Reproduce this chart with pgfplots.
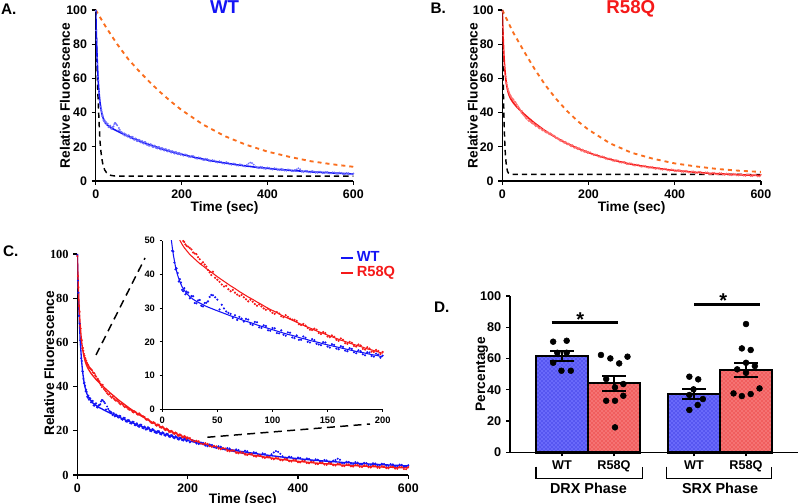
\documentclass[border=0pt]{standalone}
\usepackage{fontspec}
\setmainfont{Liberation Sans}
\newfontfamily\timesb{Liberation Serif}
\usepackage{pgfplots}
\pgfplotsset{compat=1.18}
\usepackage{pgfplotstable}
\usetikzlibrary{patterns}

\definecolor{wtblue}{RGB}{20,20,245}
\definecolor{mutred}{RGB}{245,25,25}
\definecolor{fitorange}{RGB}{250,110,30}
\definecolor{wtdot}{RGB}{110,110,255}
\definecolor{mutdot}{RGB}{255,110,110}
\definecolor{barblue}{RGB}{105,105,250}
\definecolor{barred}{RGB}{245,115,115}
\definecolor{patblue}{RGB}{25,25,210}
\definecolor{patred}{RGB}{225,25,25}

% time, fit, data
\pgfplotstableread{
t f d
0 100.0 99.5
1 89.6 88.0
2 81.0 82.5
3 73.6 72.0
4 67.4 68.5
5 62.2 61.0
6 57.8 58.9
7 54.0 52.8
8 50.9 51.6
9 48.2 47.0
10 45.9 46.8
12 42.3 41.5
14 39.7 40.4
16 37.8 38.6
18 36.3 35.4
20 35.3 35.9
22 34.4 34.9
25 33.4 32.9
28 32.6 33.5
31 32.0 31.4
34 31.5 32.4
37 31.0 30.5
40 30.5 31.6
43 30.1 33.3
46 29.7 33.8
50 29.2 32.5
54 28.7 31.0
58 28.2 29.0
62 27.7 28.3
66 27.3 27.9
70 26.8 27.4
74 26.3 26.0
78 25.9 26.6
82 25.5 25.0
86 25.0 25.8
90 24.6 24.1
94 24.2 24.7
98 23.8 23.3
102 23.4 24.0
106 23.0 22.5
110 22.6 22.1
114 22.2 22.8
118 21.9 21.3
122 21.5 21.9
126 21.1 20.6
130 20.8 21.2
134 20.4 19.8
138 20.1 20.5
142 19.8 19.2
146 19.4 19.9
150 19.1 18.6
154 18.8 19.3
158 18.5 18.0
162 18.2 18.7
166 17.9 17.4
170 17.6 18.1
174 17.3 16.9
178 17.0 17.5
182 16.8 16.3
186 16.5 16.9
190 16.2 15.8
194 16.0 16.5
198 15.7 15.3
200 15.6 15.9
208 15.1 15.6
216 14.6 14.2
224 14.2 14.7
232 13.7 13.3
240 13.3 13.8
248 12.9 12.5
256 12.5 13.0
264 12.1 11.7
272 11.7 12.2
280 11.4 11.0
288 11.0 11.6
296 10.7 10.3
304 10.4 11.0
312 10.1 9.8
320 9.8 10.3
328 9.5 9.1
336 9.2 9.8
344 9.0 8.7
352 8.7 9.4
360 8.5 10.8
368 8.2 9.6
376 8.0 7.7
384 7.8 8.3
392 7.6 7.2
400 7.4 7.9
408 7.2 6.9
416 7.0 7.5
424 6.8 6.5
432 6.6 7.1
440 6.5 6.1
448 6.3 6.8
456 6.2 5.8
464 6.0 6.5
472 5.9 7.4
480 5.7 5.4
488 5.6 6.0
496 5.5 5.1
504 5.3 5.8
512 5.2 4.8
520 5.1 5.5
528 5.0 4.6
536 4.9 5.3
544 4.8 4.4
552 4.7 5.1
560 4.6 4.2
568 4.5 4.9
576 4.4 4.0
584 4.3 4.7
592 4.2 3.8
600 4.1 4.4
}\wt

% extra WT readings between the rows above
\pgfplotstableread{
t d
11 43.5
13 41.8
15 37.9
17 37.6
19 35.0
21 34.1
23.5 34.6
26.5 33.6
29.5 31.5
32.5 32.3
35.5 30.7
38.5 31.5
41.5 32.0
44.5 33.9
48 33.2
52 29.6
56 29.9
60 28.6
64 27.1
68 26.5
72 26.9
76 26.8
80 25.3
84 25.9
88 24.3
92 24.9
96 23.4
100 24.1
104 22.6
108 23.4
112 21.8
116 22.7
120 21.1
124 20.6
128 21.6
132 20.0
136 20.8
140 19.4
144 19.0
148 19.8
152 18.3
156 19.1
160 17.8
164 18.5
168 17.2
172 17.9
176 16.6
180 17.2
184 16.0
188 16.8
192 15.6
196 16.2
204 14.8
212 15.3
220 14.0
228 14.5
236 13.0
244 13.6
252 12.2
260 12.8
268 11.5
276 12.0
284 10.8
292 11.3
300 10.1
308 10.7
316 9.5
324 10.1
332 9.0
340 9.5
348 8.4
356 10.2
364 10.5
372 8.5
380 7.5
388 8.1
396 7.1
404 7.7
412 6.7
420 7.3
428 6.3
436 6.9
444 6.0
452 6.6
460 5.7
468 6.8
476 6.9
484 5.3
492 5.9
500 5.0
508 5.6
516 4.8
524 5.4
532 4.6
540 5.2
548 4.4
556 5.0
564 4.2
572 4.8
580 4.0
588 4.6
596 3.9
}\wtx

\pgfplotstableread{
t f d
0 100.0 99.0
1 91.2 90.0
2 83.9 85.0
3 77.9 76.5
4 72.8 73.8
5 68.7 67.5
6 65.3 66.2
7 62.4 61.4
8 60.0 61.0
9 58.0 57.2
10 56.3 57.5
12 53.6 54.8
14 51.6 53.0
16 50.1 51.7
18 48.9 50.3
20 47.9 49.6
22 47.1 48.5
25 45.9 47.8
28 45.0 46.5
31 44.1 46.0
34 43.2 44.5
37 42.5 43.6
40 41.7 42.3
43 41.0 40.6
46 40.3 40.8
50 39.3 38.4
54 38.4 37.0
58 37.5 36.6
62 36.6 35.0
66 35.8 34.6
70 34.9 33.6
74 34.1 33.2
78 33.3 32.0
82 32.6 31.9
86 31.8 30.7
90 31.1 30.5
94 30.3 29.5
98 29.6 29.2
102 29.0 28.3
106 28.3 28.4
110 27.6 27.3
114 27.0 27.4
118 26.4 26.6
122 25.8 26.2
126 25.2 25.0
130 24.6 24.8
134 24.1 23.6
138 23.5 23.9
142 23.0 22.6
146 22.5 22.9
150 22.0 21.6
154 21.5 21.9
158 21.0 20.6
162 20.5 21.0
166 20.1 19.6
170 19.6 20.0
174 19.2 18.8
178 18.8 19.2
182 18.4 17.9
186 17.9 18.4
190 17.6 17.1
194 17.2 17.6
198 16.8 16.4
200 16.6 17.0
208 15.9 15.6
216 15.2 15.5
224 14.6 14.2
232 14.0 14.4
240 13.4 13.0
248 12.8 13.2
256 12.3 11.9
264 11.8 12.2
272 11.3 10.9
280 10.9 11.2
288 10.4 10.0
296 10.0 10.4
304 9.6 9.2
312 9.3 9.6
320 8.9 8.5
328 8.6 8.9
336 8.3 7.9
344 7.9 8.3
352 7.7 7.3
360 7.4 7.7
368 7.1 6.7
376 6.9 7.2
384 6.6 6.2
392 6.4 6.8
400 6.2 5.8
408 6.0 6.4
416 5.8 5.4
424 5.6 6.0
432 5.4 5.0
440 5.3 5.6
448 5.1 4.7
456 5.0 5.4
464 4.8 4.4
472 4.7 5.1
480 4.5 4.1
488 4.4 4.8
496 4.3 3.9
504 4.2 4.6
512 4.1 3.7
520 4.0 4.4
528 3.9 3.5
536 3.8 4.2
544 3.7 3.3
552 3.6 4.0
560 3.5 3.1
568 3.5 3.8
576 3.4 2.9
584 3.3 3.7
592 3.3 2.7
600 3.2 3.6
}\mut

% extra R58Q readings between the rows above
\pgfplotstableread{
t d
11 56.2
13 54.0
15 52.5
17 50.9
19 49.9
21 48.9
23.5 48.2
26.5 47.4
29.5 46.2
32.5 45.1
35.5 43.2
38.5 42.9
41.5 41.3
44.5 39.8
48 39.0
52 37.8
56 36.4
60 35.6
64 35.4
68 34.0
72 33.9
76 32.6
80 32.5
84 31.2
88 31.1
92 29.9
96 29.8
100 28.6
104 28.8
108 27.6
112 27.9
116 26.9
120 26.5
124 25.2
128 25.3
132 24.1
136 23.5
140 23.6
144 22.3
148 22.6
152 21.4
156 21.5
160 20.3
164 20.6
168 19.4
172 19.7
176 18.6
180 18.9
184 17.7
188 18.0
192 17.0
196 17.3
204 16.7
212 15.1
220 15.3
228 13.9
236 14.1
244 12.7
252 13.0
260 11.6
268 12.0
276 10.7
284 11.1
292 9.8
300 10.2
308 9.0
316 9.5
324 8.3
332 8.8
340 7.7
348 8.2
356 7.1
364 7.6
372 6.6
380 7.1
388 6.1
396 6.7
404 5.7
412 6.3
420 5.3
428 5.9
436 4.9
444 5.6
452 4.6
460 5.3
468 4.3
476 5.0
484 4.0
492 4.8
500 3.8
508 4.6
516 3.6
524 4.3
532 3.4
540 4.1
548 3.2
556 3.9
564 3.0
572 3.8
580 2.8
588 3.6
596 2.6
}\mutx

\pgfplotsset{
  prism/.style={
    scale only axis,
    axis lines=left,
    axis line style={-, line width=1.1pt},
    tick align=outside,
    major tick length=3pt,
    tick style={black, line width=1pt},
    tick label style={font=\fontsize{9.3}{11}\selectfont\bfseries},
    label style={font=\fontsize{10.3}{12}\selectfont\bfseries},
    /pgf/number format/assume math mode=true,
    xmin=0, xmax=600, ymin=0, ymax=100,
    xtick={0,200,400,600}, ytick={0,20,...,100},
  },
}

\begin{document}
\begin{tikzpicture}
\path[use as bounding box] (0,0) rectangle (600pt,377.25pt);

% ---- A
\begin{axis}[prism, at={(71.8pt,241.5pt)}, anchor=south west,
  width=193.2pt, height=128.25pt,
  xlabel={Time (sec)}, ylabel={Relative Fluorescence},
  xlabel style={at={(axis description cs:0.5,-0.16)}, anchor=center},
  ylabel style={at={(axis description cs:-0.119,0.5)}, anchor=center},
  title={WT},
  title style={at={(axis description cs:0.5,0.972)}, anchor=center, inner sep=0pt,
    font=\fontsize{14}{16}\selectfont\bfseries, text=wtblue}]
\addplot[only marks, mark=*, mark size=0.45pt, wtdot] table[x=t,y=d]{\wt};
\addplot[only marks, mark=*, mark size=0.45pt, wtdot] table[x=t,y=d]{\wtx};
\addplot[fitorange, line width=1.4pt, dash pattern=on 3pt off 3pt] coordinates {
(0,100)(25,89.5)(50,80)(75,71.5)(100,64.5)(125,58)(150,52)(175,46.5)(200,41.5)
(250,33)(300,26.3)(350,21.2)(400,17.2)(450,14.2)(500,11.6)(550,9.8)(600,8.3)};
\addplot[black, line width=1.1pt, dash pattern=on 4pt off 3pt] coordinates {
(0,100)(1,88)(2,77)(3,67)(4,59)(5,51)(6,45)(8,33)(10,23)(12,17.5)(14,13.5)
(16,10.5)(18,8.5)(21,6.4)(25,4.9)(30,3.9)(35,3.3)(45,2.9)(60,2.8)(600,2.8)};
\addplot[wtblue, line width=1.2pt] table[x=t,y=f]{\wt};
\end{axis}

% ---- B
\begin{axis}[prism, at={(376.7pt,241.5pt)}, anchor=south west,
  width=194pt, height=128.25pt,
  xlabel={Time (sec)}, ylabel={Relative Fluorescence},
  xlabel style={at={(axis description cs:0.5,-0.16)}, anchor=center},
  ylabel style={at={(axis description cs:-0.114,0.5)}, anchor=center},
  title={R58Q},
  title style={at={(axis description cs:0.497,0.96)}, anchor=center, inner sep=0pt,
    font=\fontsize{14}{16}\selectfont\bfseries, text=mutred}]
\addplot[only marks, mark=*, mark size=0.45pt, mutdot] table[x=t,y=d]{\mut};
\addplot[only marks, mark=*, mark size=0.45pt, mutdot] table[x=t,y=d]{\mutx};
\addplot[fitorange, line width=1.4pt, dash pattern=on 3pt off 3pt] coordinates {
(0,100)(25,87)(50,76)(75,65.5)(100,56)(125,48)(150,41)(175,35)(200,30)
(250,22)(300,16.5)(350,13)(400,10.3)(450,8.5)(500,7)(550,6)(600,5.3)};
\addplot[black, line width=1.1pt, dash pattern=on 4pt off 3pt] coordinates {
(0,100)(1,80)(2,62)(3,48)(4,37)(5,28)(6,21.5)(7,16.5)(8,12.8)(10,8.2)
(12,5.8)(14,4.7)(17,4.1)(22,3.9)(600,3.8)};
\addplot[mutred, line width=1.2pt] table[x=t,y=f]{\mut};
\end{axis}

% ---- C main
\begin{axis}[prism, at={(58pt,21pt)}, anchor=south west,
  width=248.25pt, height=165.75pt,
  yticklabel style={font=\fontsize{9.3}{11}\selectfont\timesb\bfseries},
  xlabel={Time (sec)}, ylabel={Relative Fluorescence},
  xlabel style={at={(axis description cs:0.5,-0.113)}, anchor=center},
  ylabel style={at={(axis description cs:-0.085,0.505)}, anchor=center},
  legend style={at={(axis description cs:0.782,1.035)}, anchor=north west,
    draw=none, fill=none, font=\fontsize{11}{13}\selectfont\bfseries,
    row sep=-2pt},
  legend cell align=left,
  legend image code/.code={\draw[#1, line width=1.3pt] (0pt,0pt) -- (9pt,0pt);}]
\addplot[forget plot, only marks, mark=*, mark size=0.55pt, wtblue] table[x=t,y=d]{\wt};
\addplot[forget plot, only marks, mark=*, mark size=0.55pt, wtblue] table[x=t,y=d]{\wtx};
\addplot[forget plot, only marks, mark=*, mark size=0.55pt, mutred] table[x=t,y=d]{\mut};
\addplot[forget plot, only marks, mark=*, mark size=0.55pt, mutred] table[x=t,y=d]{\mutx};
\addplot[wtblue, line width=1pt] table[x=t,y=f]{\wt};
\addlegendentry{\textcolor{wtblue}{WT}}
\addplot[mutred, line width=1pt] table[x=t,y=f]{\mut};
\addlegendentry{\textcolor{mutred}{R58Q}}
\end{axis}

% ---- C inset
\begin{axis}[scale only axis, at={(121.7pt,70.3pt)}, anchor=south west,
  width=165.3pt, height=126.45pt,
  axis lines=left, axis line style={-, line width=0.8pt},
  tick align=outside, major tick length=2pt, tick style={black, line width=0.7pt},
  tick label style={font=\fontsize{7}{8}\selectfont\bfseries},
  /pgf/number format/assume math mode=true,
  xmin=0, xmax=200, ymin=0, ymax=50,
  xtick={0,50,...,200}, ytick={0,10,...,50}]
\addplot[only marks, mark=*, mark size=0.6pt, wtblue] table[x=t,y=d]{\wt};
\addplot[only marks, mark=*, mark size=0.6pt, wtblue] table[x=t,y=d]{\wtx};
\addplot[only marks, mark=*, mark size=0.6pt, mutred] table[x=t,y=d]{\mut};
\addplot[only marks, mark=*, mark size=0.6pt, mutred] table[x=t,y=d]{\mutx};
\addplot[wtblue, line width=0.8pt] table[x=t,y=f]{\wt};
\addplot[mutred, line width=0.8pt] table[x=t,y=f]{\mut};
\end{axis}

\draw[black, line width=1.1pt, dash pattern=on 6pt off 4pt] (72pt,111pt) -- (108.75pt,183.75pt);
\draw[black, line width=1.1pt, dash pattern=on 6pt off 4pt] (155.5pt,49.3pt) -- (277.5pt,59.25pt);

% ---- D
\begin{axis}[scale only axis, at={(382.5pt,38pt)}, anchor=south west,
  width=216pt, height=117.2pt, clip=false,
  axis lines=left, axis line style={-, line width=1.1pt},
  tick align=outside, major tick length=3pt, tick style={black, line width=1pt},
  tick label style={font=\fontsize{9.5}{11}\selectfont\bfseries},
  label style={font=\fontsize{10.3}{12}\selectfont\bfseries},
  /pgf/number format/assume math mode=true,
  xmin=-1, xmax=4.54, ymin=0, ymax=100,
  ytick={0,20,...,100},
  xtick={0,1,2.54,3.54}, xticklabels={WT,R58Q,WT,R58Q},
  ylabel={Percentage},
  ylabel style={at={(axis description cs:-0.098,0.5)}, anchor=center},
  unbounded coords=jump]
\addplot[ybar, bar width=1, draw=black, line width=1.9pt,
  preaction={fill=barblue}, pattern=crosshatch dots, pattern color=patblue]
  coordinates {(0,61.6) (2.54,37.4)};
\addplot[ybar, bar width=1, draw=black, line width=1.9pt,
  preaction={fill=barred}, pattern=crosshatch dots, pattern color=patred]
  coordinates {(1,44.3) (3.54,52.7)};
% individual values
\addplot[only marks, mark=*, mark size=2.2pt, black] coordinates {
(-0.17,70.8)(0.09,71.4)(-0.09,63.7)(0.09,63.7)(-0.17,57.3)(-0.01,52.2)(0.17,52.2)
(0.75,62.3)(0.93,60.1)(1.10,56.9)(1.26,61.2)(0.85,46.9)(1.02,41.6)(1.18,43.7)
(0.85,33.0)(1.02,33.0)(1.18,36.2)(1.02,16.0)
(2.45,48.4)(2.62,46.7)(2.53,40.3)(2.45,36.7)(2.71,34.1)(2.61,30.3)(2.45,27.1)
(3.54,82.1)(3.46,66.5)(3.63,65.5)(3.54,57.3)(3.37,53.1)(3.71,55.2)(3.54,50.9)
(3.30,37.7)(3.46,36.0)(3.63,37.3)(3.80,40.9)};
% mean +- SEM
\addplot[black, line width=1.4pt] coordinates {
(-0.23,65.0)(0.23,65.0)(0,nan)(0,65.0)(0,58.6)(0,nan)(-0.23,58.6)(0.23,58.6)(0,nan)
(0.77,49.0)(1.23,49.0)(1,nan)(1,49.0)(1,39.2)(1,nan)(0.77,39.2)(1.23,39.2)(1,nan)
(2.31,40.7)(2.77,40.7)(2.54,nan)(2.54,40.7)(2.54,34.3)(2.54,nan)(2.31,34.3)(2.77,34.3)(2.54,nan)
(3.31,57.4)(3.77,57.4)(3.54,nan)(3.54,57.4)(3.54,48.4)(3.54,nan)(3.31,48.4)(3.77,48.4)};
% significance
\addplot[black, line width=2pt] coordinates {(-0.2,83.2)(1.08,83.2)};
\addplot[black, line width=2pt] coordinates {(2.54,94.7)(3.81,94.7)};
\node[font=\fontsize{15}{16}\selectfont\bfseries, yshift=-3pt] at (axis cs:0.35,87.8) {*};
\node[font=\fontsize{15}{16}\selectfont\bfseries, yshift=-3pt] at (axis cs:3.10,99.6) {*};
% phase brackets
\draw[black, line width=1.1pt] (axis cs:-0.5,-9.2) -- (axis cs:-0.5,-16.6) -- (axis cs:1.55,-16.6) -- (axis cs:1.55,-9.2);
\draw[black, line width=1.1pt] (axis cs:2.01,-9.2) -- (axis cs:2.01,-16.6) -- (axis cs:4.03,-16.6) -- (axis cs:4.03,-9.2);
\node[font=\fontsize{10.8}{12}\selectfont\bfseries] at (axis cs:0.51,-23) {DRX Phase};
\node[font=\fontsize{10.8}{12}\selectfont\bfseries] at (axis cs:3.04,-23) {SRX Phase};
\end{axis}

% panel letters
\node[font=\fontsize{11.5}{13}\selectfont\bfseries] at (6.6pt,370.5pt) {A.};
\node[font=\fontsize{11.5}{13}\selectfont\bfseries] at (328.7pt,371pt) {B.};
\node[font=\fontsize{11.5}{13}\selectfont\bfseries] at (8pt,188.8pt) {C.};
\node[font=\fontsize{11.5}{13}\selectfont\bfseries] at (331.3pt,147.2pt) {D.};
\end{tikzpicture}
\end{document}
